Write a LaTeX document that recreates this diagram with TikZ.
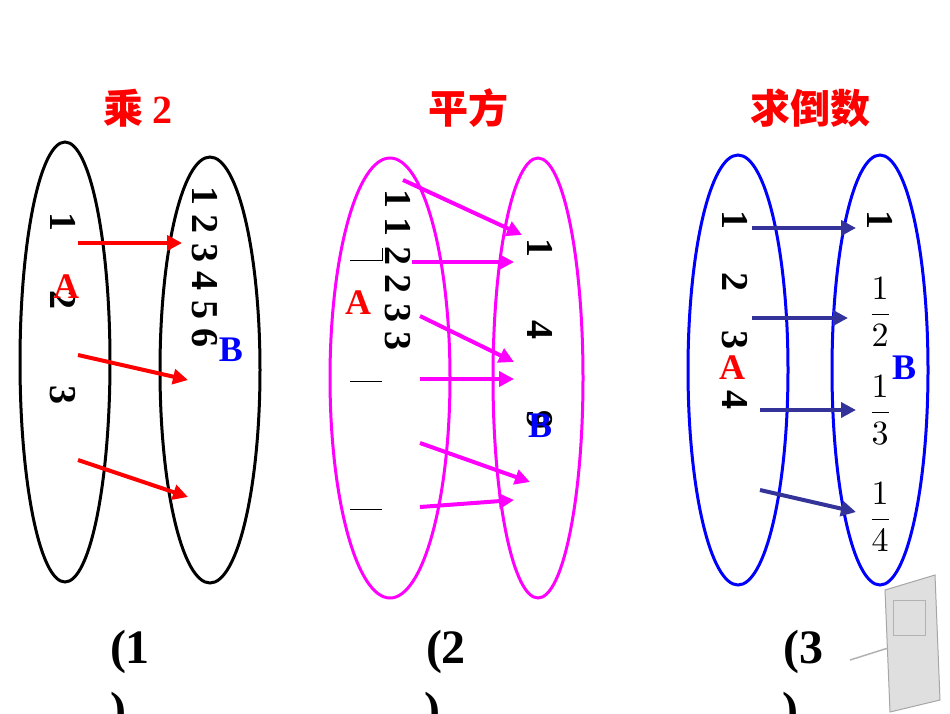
\documentclass[tikz,border=0pt]{standalone}
\usepackage{fontspec}
\setmainfont{Liberation Serif}
\newfontfamily\cjk{Noto Sans CJK SC}
\usetikzlibrary{arrows.meta}
\definecolor{navy}{RGB}{51,51,153}
\definecolor{mag}{RGB}{255,0,255}
\newcommand{\bigfrac}[1]{\scalebox{3.4}{$\displaystyle\frac{1}{#1}$}}
\begin{document}
\begin{tikzpicture}[x=1pt,y=-1pt,
  setA/.style={line width=3pt},
  num/.style={font=\fontsize{38}{38}\selectfont\bfseries,rotate=-90,inner sep=0},
  numu/.style={inner sep=0},
  lab/.style={font=\fontsize{36}{36}\selectfont\bfseries,inner sep=0},
  captxt/.style={font=\fontsize{48}{48}\selectfont\bfseries,inner sep=0},
  ttl/.style={font=\cjk\fontsize{40}{40}\selectfont\bfseries,text=red,inner sep=0},
  arr/.style={line width=4pt,-{Triangle[length=15pt,width=15pt]}}]
\useasboundingbox (0,0) rectangle (950,713);
% titles
\node[ttl] (t1) at (138,108) {乘 {\fontspec{Liberation Serif}\bfseries 2}};
\node[ttl] (t2) at (468,108) {平方};
\node[ttl] (t3) at (810,108) {求倒数};
% captions
\node[captxt] (c1) at (130,652) {(1};
\node[captxt] (c2) at (446,652) {(2};
\node[captxt] (c3) at (803,652) {(3};
\node[captxt,anchor=north] (d1) at (118,692) {)};
\node[captxt,anchor=north] (d2) at (432,692) {)};
\node[captxt,anchor=north] (d3) at (790,692) {)};
% clock picture (approx)
\fill[gray!25] (885,590) -- (935,575) -- (940,700) -- (890,712) -- cycle;
\draw[gray!70,line width=1pt] (885,590) -- (935,575) -- (940,700) -- (890,712) -- cycle;
\draw[gray!60,line width=1pt] (893,600) rectangle (925,635);
\draw[gray!60,line width=1.5pt] (888,648) -- (850,660);
% ---- (1)
\draw[setA] (65,362) ellipse [x radius=45,y radius=220];
\draw[setA] (210,370) ellipse [x radius=50,y radius=213];
\node[num] (a1) at (63,222) {1};
\node[num] (a2) at (63,300) {2};
\node[num] (a3) at (63,395) {3};
\node[lab,text=red] (A1) at (66,287) {A};
\node[num] (b1) at (205,267) {1 2 3 4 5 6};
\node[lab,text=blue] (B1) at (231,350) {B};
\coordinate (p1) at (78,243); \coordinate (q1) at (182,243);
\coordinate (p2) at (78,355); \coordinate (q2) at (188,380);
\coordinate (p3) at (78,460); \coordinate (q3) at (188,497);
\draw[arr,red] (p1) -- (q1);
\draw[arr,red] (p2) -- (q2);
\draw[arr,red] (p3) -- (q3);
% ---- (2)
\draw[setA,mag] (390,378) ellipse [x radius=60,y radius=220];
\draw[setA,mag] (538,378) ellipse [x radius=45,y radius=220];
\node[num] (e1) at (398,270) {1 1 2 2 3 3};
\draw[line width=1pt] (350,260) -- (382,260) -- (382,248);
\draw[line width=1pt] (350,381) -- (382,381);
\draw[line width=1pt] (350,509) -- (382,509);
\node[lab,text=red] (A2) at (358,303) {A};
\node[num] (f1) at (540,248) {1};
\node[num] (f2) at (540,330) {4};
\node[num] (f3) at (540,420) {9};
\node[lab,text=blue] (B2) at (540,426) {B};
\coordinate (r1) at (403,180); \coordinate (s1) at (522,235);
\coordinate (r2) at (412,262); \coordinate (s2) at (514,262);
\coordinate (r3) at (420,316); \coordinate (s3) at (514,362);
\coordinate (r4) at (420,379); \coordinate (s4) at (514,379);
\coordinate (r5) at (420,443); \coordinate (s5) at (530,482);
\coordinate (r6) at (420,507); \coordinate (s6) at (514,500);
\foreach \i in {1,...,6} \draw[arr,mag] (r\i) -- (s\i);
% ---- (3)
\draw[setA,blue] (738,370) ellipse [x radius=50,y radius=215];
\draw[setA,blue] (880,370) ellipse [x radius=48,y radius=215];
\node[num] (g1) at (735,220) {1};
\node[num] (g2) at (735,282) {2};
\node[num] (g3) at (735,340) {3};
\node[num] (g4) at (735,400) {4};
\node[lab,text=red] (A3) at (732,368) {A};
\node[num] (h1) at (880,220) {1};
\node[numu] (h2) at (880,312) {\bigfrac{2}};
\node[numu] (h3) at (880,410) {\bigfrac{3}};
\node[numu] (h4) at (880,517) {\bigfrac{4}};
\node[lab,text=blue] (B3) at (904,368) {B};
\coordinate (u1) at (752,228); \coordinate (v1) at (856,228);
\coordinate (u2) at (752,318); \coordinate (v2) at (848,318);
\coordinate (u3) at (760,410); \coordinate (v3) at (856,410);
\coordinate (u4) at (760,490); \coordinate (v4) at (856,512);
\foreach \i in {1,...,4} \draw[arr,navy] (u\i) -- (v\i);
\end{tikzpicture}
\end{document}
